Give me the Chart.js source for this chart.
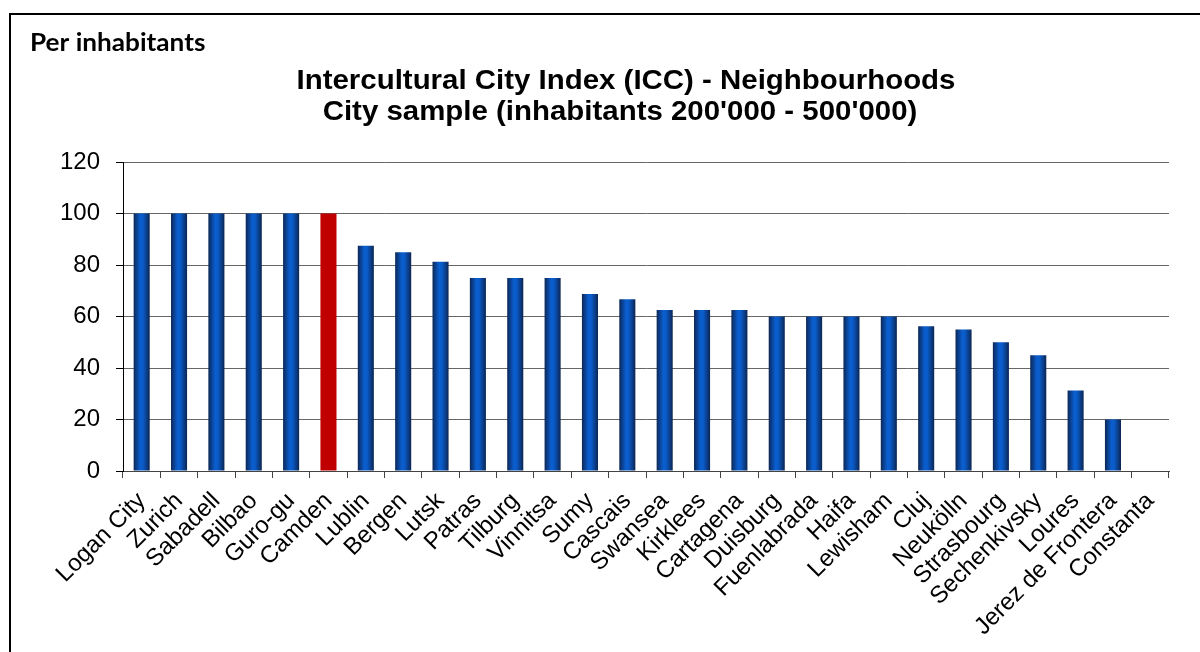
<!DOCTYPE html>
<html>
<head>
<meta charset="utf-8">
<script src="https://cdn.jsdelivr.net/npm/chart.js@4"></script>
<style>
  html, body { margin: 0; padding: 0; background: #fff; }
  #wrap { position: relative; width: 1200px; height: 652px; overflow: hidden; }
  #frame { position: absolute; left: 9px; top: 13px; width: 1300px; height: 700px;
           border-left: 2px solid #000; border-top: 2px solid #000; pointer-events: none; }
</style>
</head>
<body>
<div id="wrap">
  <canvas id="graph" width="1200" height="652"></canvas>
  <div id="frame"></div>
</div>
<script>
const cities = [
  'Logan City', 'Zurich', 'Sabadell', 'Bilbao', 'Guro-gu', 'Camden', 'Lublin',
  'Bergen', 'Lutsk', 'Patras', 'Tilburg', 'Vinnitsa', 'Sumy', 'Cascais',
  'Swansea', 'Kirklees', 'Cartagena', 'Duisburg', 'Fuenlabrada', 'Haifa',
  'Lewisham', 'Cluj', 'Neukölln', 'Strasbourg', 'Sechenkivsky', 'Loures',
  'Jerez de Frontera', 'Constanta',
]
const scores = [
  100, 100, 100, 100, 100, 100, 87.5,
  85, 81.25, 75, 75, 75, 68.75, 66.7,
  62.5, 62.5, 62.5, 60, 60, 60,
  60, 56.25, 55, 50, 45, 31.25,
  20, 0,
]
const yTicks = [0, 20, 40, 60, 80, 100, 120]
const highlightCity = 'Camden'
const titleLines = [
  'Intercultural City Index (ICC) - Neighbourhoods',
  "City sample (inhabitants 200'000 - 500'000)",
]
const cornerLabel = 'Per inhabitants'

const BAR_PCT = 0.43
const STRETCH = 1.09 // the original text is a bit wider than it is tall

// blue bars get a horizontal "cylinder" shading, the highlighted city is flat red
function barColor(ctx) {
  const chart = ctx.chart
  const i = ctx.dataIndex
  if (cities[i] === highlightCity) return '#c00000'
  const x = chart.scales.x
  if (!x || !chart.chartArea) return '#0a56c0'
  const cw = (x.right - x.left) / cities.length
  const cx = x.getPixelForValue(i)
  const half = cw * BAR_PCT / 2
  const g = chart.ctx.createLinearGradient(cx - half, 0, cx + half, 0)
  g.addColorStop(0, '#0c2755')
  g.addColorStop(0.18, '#0b3f8c')
  g.addColorStop(0.42, '#0a5fd0')
  g.addColorStop(0.58, '#0a5bc8')
  g.addColorStop(0.82, '#0b3d88')
  g.addColorStop(1, '#0a2550')
  return g
}

function stretchedText(c, text, x, y) {
  c.save()
  c.translate(x, y)
  c.scale(STRETCH, 1)
  c.fillText(text, 0, 0)
  c.restore()
}

const headerText = {
  id: 'headerText',
  afterDraw(chart) {
    const c = chart.ctx
    c.save()
    c.fillStyle = '#000'
    c.textAlign = 'left'
    c.textBaseline = 'alphabetic'
    c.font = 'bold 24px Lato'
    stretchedText(c, cornerLabel, 30, 51)
    c.textAlign = 'center'
    c.font = 'bold 27px "Liberation Sans"'
    stretchedText(c, titleLines[0], 626, 88.5)
    stretchedText(c, titleLines[1], 620, 119.5)
    c.restore()
  },
}

const ctx = document.getElementById('graph')
new Chart(ctx, {
  type: 'bar',
  data: {
    labels: cities,
    datasets: [
      {
        label: 'ICC Neighbourhoods',
        data: scores,
        backgroundColor: barColor,
        borderWidth: 0,
        barPercentage: BAR_PCT,
        categoryPercentage: 1,
      },
    ],
  },
  options: {
    responsive: false,
    animation: false,
    devicePixelRatio: 1,
    layout: { padding: { top: 162, right: 31, left: 0, bottom: 0 } },
    plugins: {
      legend: { display: false },
      title: { display: false },
      tooltip: { enabled: false },
    },
    scales: {
      x: {
        offset: true,
        grid: {
          offset: true,
          drawOnChartArea: false,
          drawTicks: true,
          tickLength: 7,
          tickColor: '#444',
          lineWidth: 1,
        },
        border: { display: true, color: '#444', width: 1 },
        ticks: {
          autoSkip: false,
          minRotation: 45,
          maxRotation: 45,
          padding: 9,
          color: '#000',
          font: { family: '"Liberation Sans"', size: 24 },
        },
        afterFit(scale) {
          scale.height = 181
        },
      },
      y: {
        min: 0,
        max: 120,
        afterBuildTicks(scale) {
          scale.ticks = yTicks.map((v) => ({ value: v }))
        },
        grid: {
          color: '#666',
          lineWidth: 1,
          borderDash: [2, 2],
          tickLength: 7,
          tickColor: '#000',
          tickBorderDash: [],
        },
        border: { display: true, color: '#000', width: 1 },
        ticks: {
          padding: 16,
          color: '#000',
          font: { family: '"Liberation Sans"', size: 24 },
        },
        afterFit(scale) {
          scale.width = 123
        },
      },
    },
  },
  plugins: [headerText],
})
</script>
</body>
</html>
